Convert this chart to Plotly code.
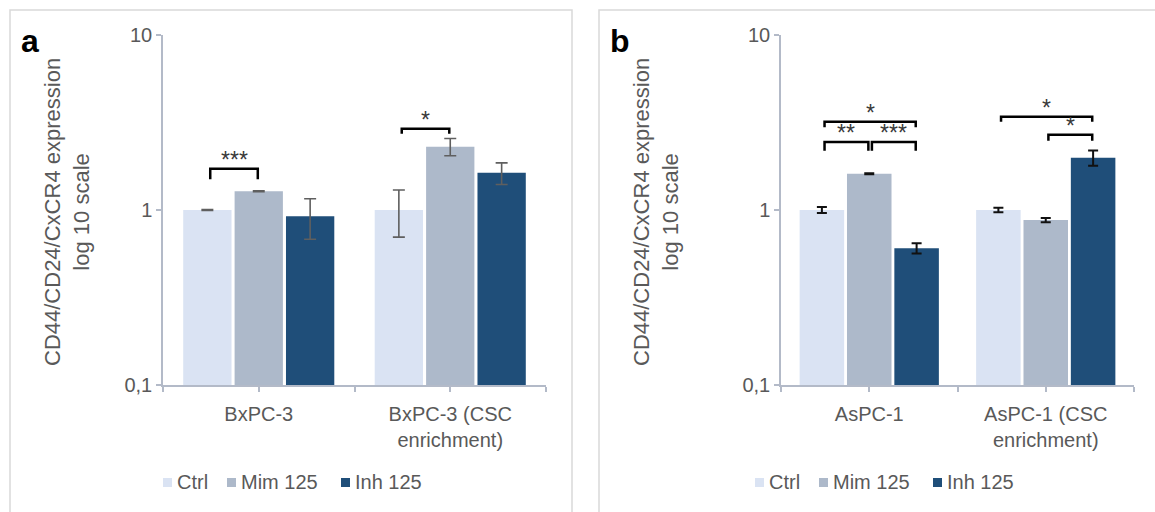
import math
import plotly.graph_objects as go

# ---- data -------------------------------------------------------------
series = ["Ctrl", "Mim 125", "Inh 125"]
colors = ["#dae3f3", "#adb9ca", "#1f4e79"]

groups_a = ["BxPC-3", "BxPC-3 (CSC<br>enrichment)"]
a_ctrl = [1.0, 1.0]
a_mim = [1.28, 2.30]
a_inh = [0.92, 1.63]
a_ctrl_err = [0.005, 0.30]
a_mim_err = [0.008, 0.26]
a_inh_err = [0.24, 0.23]

groups_b = ["AsPC-1", "AsPC-1 (CSC<br>enrichment)"]
b_ctrl = [1.0, 1.0]
b_mim = [1.61, 0.876]
b_inh = [0.605, 1.99]
b_ctrl_err = [0.04, 0.03]
b_mim_err = [0.01, 0.025]
b_inh_err = [0.04, 0.20]

# significance brackets: (group, bar i, bar j, bracket level, leg end, label)
sig_a = [
    (0, 0, 1, 1.72, 1.50, "***"),
    (1, 0, 1, 2.91, 2.73, "*"),
]
sig_b = [
    (0, 0, 1, 2.45, 2.18, "**"),
    (0, 1, 2, 2.45, 2.18, "***"),
    (0, 0, 2, 3.19, 2.97, "*"),
    (1, 0, 2, 3.41, 3.19, "*"),
    (1, 1, 2, 2.69, 2.49, "*"),
]

y_tickvals = [0.1, 1, 10]
y_ticktext = ["0,1", "1", "10"]

# ---- styling ----------------------------------------------------------
W, H = 1155, 512
FONT = "Liberation Sans, Arial, sans-serif"
TXT = "#595959"
AXIS = "#b3bac8"
BARGAP = 0.195
SLOT = (1 - BARGAP) / 3


def px_x(v):
    return v / W


def px_y(v):
    return 1 - v / H


fig = go.Figure()

panels = [
    dict(xa="x", ya="y", groups=groups_a,
         vals=[a_ctrl, a_mim, a_inh], errs=[a_ctrl_err, a_mim_err, a_inh_err],
         err_color="#5f5f5f", err_w=1.6, err_cap=6, sig=sig_a),
    dict(xa="x2", ya="y2", groups=groups_b,
         vals=[b_ctrl, b_mim, b_inh], errs=[b_ctrl_err, b_mim_err, b_inh_err],
         err_color="#111111", err_w=2, err_cap=5, sig=sig_b),
]

for p in panels:
    xpos = list(range(len(p["groups"])))
    for k, name in enumerate(series):
        fig.add_trace(go.Bar(
            x=xpos, y=p["vals"][k], name=name, marker_color=colors[k],
            marker_line_width=0, offsetgroup=str(k), showlegend=False,
            error_y=dict(type="data", array=p["errs"][k], visible=True,
                         color=p["err_color"], thickness=p["err_w"],
                         width=p["err_cap"]),
            xaxis=p["xa"], yaxis=p["ya"], hoverinfo="x+y+name",
        ))
    # significance brackets and stars
    for g, i, j, level, leg, label in p["sig"]:
        x0 = g + (i - 1) * SLOT + 0.015
        x1 = g + (j - 1) * SLOT - 0.005
        fig.add_trace(go.Scatter(
            x=[x0, x0, x1, x1], y=[leg, level, level, leg], mode="lines",
            line=dict(color="#000000", width=2.5), showlegend=False,
            hoverinfo="skip", xaxis=p["xa"], yaxis=p["ya"],
        ))
        # annotation y on a log axis is given as log10 of the value
        fig.add_annotation(
            text=label, xref=p["xa"], yref=p["ya"], x=(x0 + x1) / 2,
            y=math.log10(level), xanchor="center", yanchor="bottom",
            yshift=-6, showarrow=False,
            font=dict(family=FONT, size=23, color="#3a3a3a"),
        )

common_x = dict(
    range=[-0.5, 1.5], tickmode="array", tickvals=[0, 1],
    ticks="outside", ticklen=5, tickcolor=AXIS, tickwidth=1.5,
    showline=True, linecolor=AXIS, linewidth=1.5, showgrid=False,
    zeroline=False, fixedrange=True, automargin=False,
    ticklabelstandoff=5,
    tickfont=dict(family=FONT, size=20, color=TXT),
    minor=dict(tickmode="array", tickvals=[-0.5, 0.5, 1.5], ticks="outside",
               ticklen=5, tickcolor=AXIS, tickwidth=1.5, showgrid=False),
)
common_y = dict(
    type="log", range=[-1, 1], tickmode="array", tickvals=y_tickvals,
    ticktext=y_ticktext, ticks="outside", ticklen=5, tickcolor=AXIS,
    tickwidth=1.5, showline=True, linecolor=AXIS, linewidth=1.5,
    showgrid=False, zeroline=False, fixedrange=True, automargin=False,
    tickfont=dict(family=FONT, size=20, color=TXT),
    domain=[px_y(385), px_y(35)],
)

fig.update_layout(
    width=W, height=H,
    margin=dict(l=0, r=0, t=0, b=0, pad=0, autoexpand=False),
    paper_bgcolor="white", plot_bgcolor="white",
    barmode="group", bargap=BARGAP, bargroupgap=0.06,
    xaxis=dict(common_x, domain=[px_x(163), px_x(546)], anchor="y",
               ticktext=groups_a),
    yaxis=dict(common_y, anchor="x"),
    xaxis2=dict(common_x, domain=[px_x(781), px_x(1134)], anchor="y2",
                ticktext=groups_b),
    yaxis2=dict(common_y, anchor="x2"),
    font=dict(family=FONT, color=TXT),
)

# panel frames
for x0, x1 in [(10, 572), (599, 1170)]:
    fig.add_shape(type="rect", xref="paper", yref="paper",
                  x0=px_x(x0), x1=px_x(x1), y0=px_y(530), y1=px_y(10),
                  line=dict(color="#d9d9d9", width=1.5), layer="below")

# panel letters
for letter, xc in [("a", 30), ("b", 620)]:
    fig.add_annotation(text="<b>%s</b>" % letter, xref="paper", yref="paper",
                       x=px_x(xc), y=px_y(41), xanchor="center",
                       yanchor="middle", showarrow=False,
                       font=dict(family=FONT, size=32, color="#000000"))

# y-axis titles
for xc in [67, 656]:
    fig.add_annotation(text="CD44/CD24/CxCR4 expression<br>log 10 scale",
                       xref="paper", yref="paper", x=px_x(xc), y=px_y(212),
                       xanchor="center", yanchor="middle", textangle=-90,
                       showarrow=False,
                       font=dict(family=FONT, size=22, color=TXT))

# legends: colour squares followed by series names
legend_layout = [
    (163, [0, 64, 178]),
    (755, [0, 64, 178]),
]
for base, offsets in legend_layout:
    for k, name in enumerate(series):
        sx = base + offsets[k]
        fig.add_shape(type="rect", xref="paper", yref="paper",
                      x0=px_x(sx), x1=px_x(sx + 9), y0=px_y(487), y1=px_y(478),
                      fillcolor=colors[k], line=dict(width=0))
        fig.add_annotation(text=name, xref="paper", yref="paper",
                           x=px_x(sx + 12), y=px_y(482), xanchor="left",
                           yanchor="middle", showarrow=False,
                           font=dict(family=FONT, size=20, color=TXT))

fig.write_html("out.html")
